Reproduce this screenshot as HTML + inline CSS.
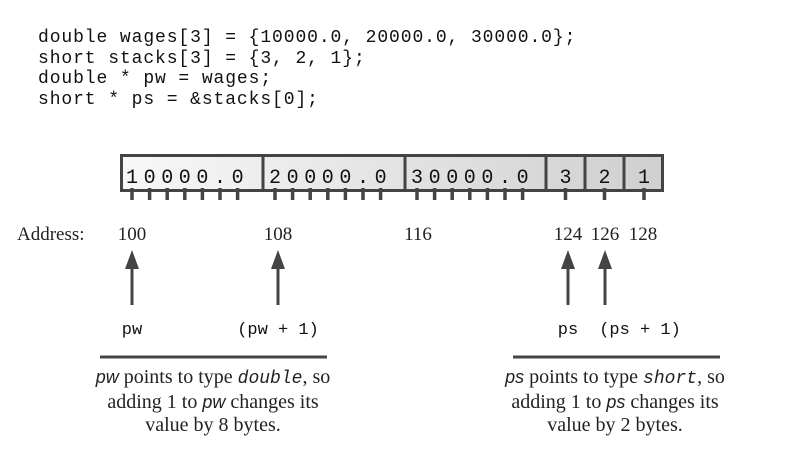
<!DOCTYPE html>
<html><head><meta charset="utf-8"><style>
body{margin:0;width:811px;height:453px;background:#fff;overflow:hidden;position:relative}
.code{position:absolute;left:38px;top:28px;font:18px/20.5px "Liberation Mono",monospace;letter-spacing:0.9px;color:#111;white-space:pre;margin:0}
.serif{font-family:"Liberation Serif",serif;color:#222}
</style></head><body>
<pre class="code">double wages[3] = {10000.0, 20000.0, 30000.0};
short stacks[3] = {3, 2, 1};
double * pw = wages;
short * ps = &amp;stacks[0];</pre>
<svg id="d" width="811" height="453" style="position:absolute;left:0;top:0">
<defs><linearGradient id="g" x1="0" x2="1"><stop offset="0" stop-color="#f8f8f8"/><stop offset="1" stop-color="#cfcfcf"/></linearGradient></defs>
</svg>
<script>
const cells=[{t:"10000.0",x0:120,x1:263,type:"double"},{t:"20000.0",x0:263,x1:405,type:"double"},{t:"30000.0",x0:405,x1:546,type:"double"},{t:"3",x0:546,x1:585,type:"short"},{t:"2",x0:585,x1:624,type:"short"},{t:"1",x0:624,x1:664,type:"short"}];
const addrs=[{a:"100",x:132},{a:"108",x:278},{a:"116",x:418},{a:"124",x:568},{a:"126",x:605},{a:"128",x:643}];
const arrows=[{x:132,l:"pw"},{x:278,l:"(pw + 1)"},{x:568,l:"ps"},{x:605,l:"(ps + 1)",lx:640}];
const svg=document.getElementById('d');const NS="http://www.w3.org/2000/svg";
function mk(t,a,p){const e=document.createElementNS(NS,t);for(const k in a)e.setAttribute(k,a[k]);(p||svg).appendChild(e);return e;}
const bg=mk('rect',{x:120,y:155,width:544,height:36,fill:'url(#g)'});


cells.forEach((c,i)=>{
 if(i>0){const l=mk('line',{x1:c.x0,x2:c.x0,y1:155,y2:191,stroke:'#444','stroke-width':3});
 
 }
 const chars=c.t.split('');
 chars.forEach((ch,j)=>{
  const x=c.type==='double'?c.x0+12+j*17.6:(c.x0+c.x1)/2;
  const t=mk('text',{x:x,y:183,'text-anchor':'middle','font-family':'Liberation Mono, monospace','font-size':20,fill:'#111'});t.textContent=ch;
  
  
  const tk=mk('line',{x1:x,x2:x,y1:188,y2:200,stroke:'#444','stroke-width':3.5});
  
  
 });
});
const box=mk('rect',{x:121.5,y:155.5,width:541,height:35,fill:'none',stroke:'#444','stroke-width':3});


const al=mk('text',{x:17,y:240,'font-family':'Liberation Serif, serif','font-size':19,fill:'#222'});al.textContent='Address:';


addrs.forEach(a=>{const t=mk('text',{x:a.x,y:240,'text-anchor':'middle','font-family':'Liberation Serif, serif','font-size':19,fill:'#222'});t.textContent=a.a;
 
 });
arrows.forEach(a=>{
 const g=mk('g',{});
 
 
 mk('line',{x1:a.x,x2:a.x,y1:262,y2:305,stroke:'#444','stroke-width':3},g);
 mk('polygon',{points:`${a.x-7},269 ${a.x},250 ${a.x+7},269`,fill:'#444'},g);
 const t=mk('text',{x:a.lx||a.x,y:334,'text-anchor':'middle','font-family':'Liberation Mono, monospace','font-size':17,fill:'#111'});t.textContent=a.l;
 
 
});
[[100,327],[513,720]].forEach(r=>{const l=mk('line',{x1:r[0],x2:r[1],y1:357,y2:357,stroke:'#444','stroke-width':3});
 
 });
</script>
<div class="serif" style="position:absolute;left:63px;width:300px;top:366px;text-align:center;font-size:20px;line-height:23px"><i style="font-family:'Liberation Sans',sans-serif;font-size:18px">pw</i> points to type <span style="font-family:'Liberation Mono',monospace;font-style:italic;font-size:18px">double</span>, so<br>adding 1 to <i style="font-family:'Liberation Sans',sans-serif;font-size:18px">pw</i> changes its<br>value by 8 bytes.</div>
<div class="serif" style="position:absolute;left:465px;width:300px;top:366px;text-align:center;font-size:20px;line-height:23px"><i style="font-family:'Liberation Sans',sans-serif;font-size:18px">ps</i> points to type <span style="font-family:'Liberation Mono',monospace;font-style:italic;font-size:18px">short</span>, so<br>adding 1 to <i style="font-family:'Liberation Sans',sans-serif;font-size:18px">ps</i> changes its<br>value by 2 bytes.</div>
</body></html>
